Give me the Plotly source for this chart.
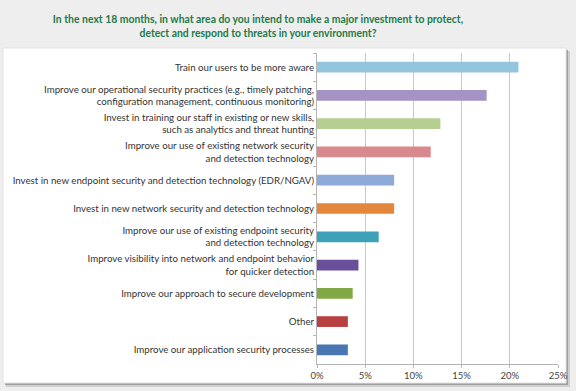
import plotly.graph_objects as go

categories = [
    "Train our users to be more aware",
    "Improve our operational security practices (e.g., timely patching,<br>configuration management, continuous monitoring)",
    "Invest in training our staff in existing or new skills,<br>such as analytics and threat hunting",
    "Improve our use of existing network security<br>and detection technology",
    "Invest in new endpoint security and detection technology (EDR/NGAV)",
    "Invest in new network security and detection technology",
    "Improve our use of existing endpoint security<br>and detection technology",
    "Improve visibility into network and endpoint behavior<br>for quicker detection",
    "Improve our approach to secure development",
    "Other",
    "Improve our application security processes",
]
values = [20.9, 17.6, 12.8, 11.8, 8.0, 8.0, 6.4, 4.3, 3.7, 3.2, 3.2]
colors = ["#93c6dc", "#a593c3", "#b5cf92", "#d9898e", "#8eaad8", "#e3873d",
          "#3da2b8", "#6a4f9a", "#82a846", "#b94040", "#4a77b4"]
title_text = ("In the next 18 months, in what area do you intend to make a major investment to protect,"
              "<br>detect and respond to threats in your environment?")

W, H = 576, 391
L, R, T, B = 317, 18, 53, 27
pw, ph = W - L - R, H - T - B

def px(x):
    return (x - L) / pw

def py(y):
    return (H - B - y) / ph

fig = go.Figure(go.Bar(
    x=values, y=categories, orientation="h",
    marker=dict(color=colors, line=dict(width=0)),
    width=0.38,
))

shapes = [
    # soft shadow
    dict(type="rect", xref="paper", yref="paper", x0=px(6), x1=px(570), y0=py(387), y1=py(51),
         fillcolor="#d0d0d0", line=dict(width=0), layer="below"),
    dict(type="rect", xref="paper", yref="paper", x0=px(5), x1=px(568), y0=py(385), y1=py(50),
         fillcolor="#a0a0a0", line=dict(width=0), layer="below"),
    # white panel
    dict(type="rect", xref="paper", yref="paper", x0=px(3), x1=px(566), y0=py(383), y1=py(48),
         fillcolor="#ffffff", line=dict(color="#e2e2e2", width=1), layer="below"),
]

fig.update_layout(
    width=W, height=H, autosize=False,
    margin=dict(l=L, r=R, t=T, b=B, pad=0),
    paper_bgcolor="#eeeeee",
    plot_bgcolor="rgba(0,0,0,0)",
    showlegend=False,
    shapes=shapes,
    title=dict(text=title_text, xref="container", yref="container",
               x=258 / W, y=1 - 23 / H, xanchor="center", yanchor="middle",
               font=dict(family="Lato", size=10.4, color="#1f7a48", weight="bold")),
    font=dict(family="Lato", color="#333333"),
    xaxis=dict(range=[0, 25], dtick=5, ticksuffix="%", showgrid=True, gridcolor="#c8c8c8",
               gridwidth=1, showline=True, linecolor="#b5b5b5", ticks="outside", ticklen=3,
               tickcolor="#b5b5b5", tickfont=dict(size=9.5, color="#444444"), zeroline=False,
               automargin=False, fixedrange=True),
    yaxis=dict(categoryorder="array", categoryarray=categories, autorange="reversed",
               showline=True, linecolor="#b5b5b5", ticks="outside", ticklen=3,
               tickcolor="#b5b5b5", tickson="boundaries", showgrid=False,
               tickfont=dict(size=9.7, color="#333333"), automargin=False, fixedrange=True),
)

fig.write_html("out.html", config={"displayModeBar": False},
               post_script="document.body.style.margin='0px';")
